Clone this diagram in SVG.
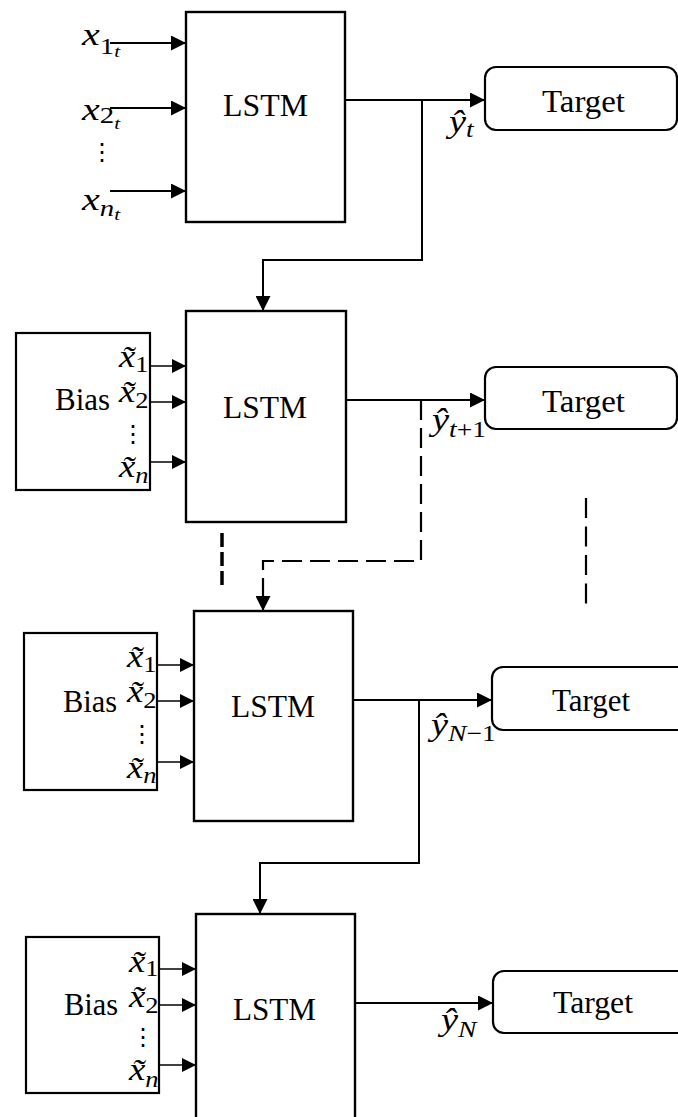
<svg xmlns="http://www.w3.org/2000/svg" width="678" height="1117" viewBox="0 0 678 1117">
  <style>
    .box { fill: #fff; stroke: #000; stroke-width: 2.4; }
    .bias { fill: #fff; stroke: #000; stroke-width: 2.2; }
    .tgt { fill: #fff; stroke: #000; stroke-width: 2.2; }
    .word { font-family: "Liberation Serif", "Times New Roman", serif; font-size: 32px; fill: #000; }
    .m { font-family: "Liberation Serif", "Times New Roman", serif; font-size: 32px; fill: #000; }
    .it { font-style: italic; }
    .s1 { font-size: 23px; }
    .s2 { font-size: 17px; }
    .dots { font-family: "DejaVu Serif", serif; font-size: 24px; fill: #000; }
    .ln { fill: none; stroke: #000; stroke-width: 2; }
    .thin { fill: none; stroke: #000; stroke-width: 1.4; }
    .dash { fill: none; stroke: #000; stroke-width: 2.2; stroke-dasharray: 20 8; }
    .dash2 { fill: none; stroke: #000; stroke-width: 3.5; stroke-dasharray: 14 5; }
  </style>
  <defs>
    <marker id="arr" markerUnits="userSpaceOnUse" markerWidth="15" markerHeight="15" refX="15" refY="7.5" orient="auto">
      <path d="M0,0 L15,7.5 L0,15 z" fill="#000"/>
    </marker>
    <marker id="arrS" markerUnits="userSpaceOnUse" markerWidth="14" markerHeight="14" refX="14" refY="7" orient="auto">
      <path d="M0,0 L14,7 L0,14 z" fill="#000"/>
    </marker>
  </defs>

  <!-- connectors -->
  <g id="connectors">
    <!-- stage 1 inputs -->
    <line class="ln" x1="110" y1="43" x2="186" y2="43" marker-end="url(#arr)"/>
    <line class="ln" x1="110" y1="108" x2="186" y2="108" marker-end="url(#arr)"/>
    <line class="ln" x1="110" y1="191" x2="186" y2="191" marker-end="url(#arr)"/>
    <!-- stage 1 output and feedback -->
    <line class="ln" x1="345" y1="100" x2="485" y2="100" marker-end="url(#arr)"/>
    <path class="ln" d="M422,100 V260 H263 V311" marker-end="url(#arr)"/>

    <!-- stage 2 inputs -->
    <line class="thin" x1="150" y1="366" x2="186" y2="366" marker-end="url(#arrS)"/>
    <line class="thin" x1="150" y1="402" x2="186" y2="402" marker-end="url(#arrS)"/>
    <line class="thin" x1="150" y1="462" x2="186" y2="462" marker-end="url(#arrS)"/>
    <!-- stage 2 output and dashed feedback -->
    <line class="ln" x1="346" y1="400" x2="485" y2="400" marker-end="url(#arr)"/>
    <path class="dash" d="M421,400 V561 H263 V597"/>
    <line class="ln" x1="263" y1="596" x2="263" y2="611" marker-end="url(#arr)"/>
    <!-- continuation marks -->
    <line class="dash2" x1="222" y1="533" x2="222" y2="588"/>
    <line class="dash" x1="586" y1="498" x2="586" y2="605" style="stroke-dasharray: 20 8.5"/>

    <!-- stage 3 inputs -->
    <line class="thin" x1="157" y1="665" x2="194" y2="665" marker-end="url(#arrS)"/>
    <line class="thin" x1="157" y1="701" x2="194" y2="701" marker-end="url(#arrS)"/>
    <line class="thin" x1="157" y1="762" x2="194" y2="762" marker-end="url(#arrS)"/>
    <!-- stage 3 output and feedback -->
    <line class="ln" x1="353" y1="700" x2="492" y2="700" marker-end="url(#arr)"/>
    <path class="ln" d="M419,700 V863 H260 V914" marker-end="url(#arr)"/>

    <!-- stage 4 inputs -->
    <line class="thin" x1="159" y1="969" x2="196" y2="969" marker-end="url(#arrS)"/>
    <line class="thin" x1="159" y1="1005" x2="196" y2="1005" marker-end="url(#arrS)"/>
    <line class="thin" x1="159" y1="1065" x2="196" y2="1065" marker-end="url(#arrS)"/>
    <!-- stage 4 output -->
    <line class="ln" x1="355" y1="1003" x2="493" y2="1003" marker-end="url(#arr)"/>
  </g>

  <!-- stage 1 -->
  <g id="inputs1">
    <text class="m" transform="translate(82,45) scale(1.25,1)"><tspan class="it">x</tspan><tspan class="s1" dy="9">1</tspan><tspan class="s2 it" dy="3">t</tspan></text>
    <text class="m" transform="translate(82,120) scale(1.25,1)"><tspan class="it">x</tspan><tspan class="s1" dy="3">2</tspan><tspan class="s2 it" dy="6">t</tspan></text>
    <text class="dots" x="102" y="160" text-anchor="middle">⋮</text>
    <text class="m" transform="translate(82,210) scale(1.25,1)"><tspan class="it">x</tspan><tspan class="s1 it" dy="6">n</tspan><tspan class="s2 it" dy="4">t</tspan></text>
  </g>
  <g id="lstm1">
    <rect class="box" x="186" y="12" width="159" height="210"/>
    <text class="word" x="223" y="116" textLength="85" lengthAdjust="spacingAndGlyphs">LSTM</text>
  </g>
  <g id="target1">
    <rect class="tgt" x="485" y="67" width="192" height="63" rx="11"/>
    <text class="word" x="542" y="112" textLength="83" lengthAdjust="spacingAndGlyphs">Target</text>
    <text class="m" transform="translate(449,132) scale(1.2,1)"><tspan class="it">ŷ</tspan><tspan class="s1 it" dy="5">t</tspan></text>
  </g>

  <!-- stage 2 -->
  <g id="bias2">
    <rect class="bias" x="16" y="333" width="134" height="157"/>
    <text class="word" x="55" y="410" textLength="55" lengthAdjust="spacingAndGlyphs">Bias</text>
    <text class="m" transform="translate(119,367) scale(1.15,1)"><tspan class="it">x̃</tspan><tspan class="s1" dy="5">1</tspan></text>
    <text class="m" transform="translate(119,402) scale(1.15,1)"><tspan class="it">x̃</tspan><tspan class="s1" dy="6">2</tspan></text>
    <text class="dots" x="133" y="442" text-anchor="middle">⋮</text>
    <text class="m" transform="translate(119,477) scale(1.15,1)"><tspan class="it">x̃</tspan><tspan class="s1 it" dy="6">n</tspan></text>
  </g>
  <g id="lstm2">
    <rect class="box" x="186" y="311" width="160" height="211"/>
    <text class="word" x="223" y="418" textLength="84" lengthAdjust="spacingAndGlyphs">LSTM</text>
  </g>
  <g id="target2">
    <rect class="tgt" x="485" y="367" width="192" height="62" rx="11"/>
    <text class="word" x="542" y="412" textLength="83" lengthAdjust="spacingAndGlyphs">Target</text>
    <text class="m" transform="translate(432,430) scale(1.2,1)"><tspan class="it">ŷ</tspan><tspan class="s1" dy="7"><tspan class="it">t</tspan>+1</tspan></text>
  </g>

  <!-- stage 3 -->
  <g id="bias3">
    <rect class="bias" x="24" y="633" width="133" height="157"/>
    <text class="word" x="63" y="712" textLength="54" lengthAdjust="spacingAndGlyphs">Bias</text>
    <text class="m" transform="translate(127,667) scale(1.15,1)"><tspan class="it">x̃</tspan><tspan class="s1" dy="5">1</tspan></text>
    <text class="m" transform="translate(127,702) scale(1.15,1)"><tspan class="it">x̃</tspan><tspan class="s1" dy="6">2</tspan></text>
    <text class="dots" x="142" y="742" text-anchor="middle">⋮</text>
    <text class="m" transform="translate(127,778) scale(1.15,1)"><tspan class="it">x̃</tspan><tspan class="s1 it" dy="5">n</tspan></text>
  </g>
  <g id="lstm3">
    <rect class="box" x="194" y="611" width="159" height="210"/>
    <text class="word" x="231" y="717" textLength="84" lengthAdjust="spacingAndGlyphs">LSTM</text>
  </g>
  <g id="target3">
    <rect class="tgt" x="492" y="667" width="200" height="63" rx="11"/>
    <text class="word" x="552" y="711" textLength="78" lengthAdjust="spacingAndGlyphs">Target</text>
    <text class="m" transform="translate(431,735) scale(1.2,1)"><tspan class="it">ŷ</tspan><tspan class="s1" dy="6"><tspan class="it">N</tspan>−1</tspan></text>
  </g>

  <!-- stage 4 -->
  <g id="bias4">
    <rect class="bias" x="26" y="937" width="133" height="156"/>
    <text class="word" x="64" y="1015" textLength="54" lengthAdjust="spacingAndGlyphs">Bias</text>
    <text class="m" transform="translate(129,972) scale(1.15,1)"><tspan class="it">x̃</tspan><tspan class="s1" dy="4">1</tspan></text>
    <text class="m" transform="translate(129,1007) scale(1.15,1)"><tspan class="it">x̃</tspan><tspan class="s1" dy="6">2</tspan></text>
    <text class="dots" x="143" y="1045" text-anchor="middle">⋮</text>
    <text class="m" transform="translate(129,1080) scale(1.15,1)"><tspan class="it">x̃</tspan><tspan class="s1 it" dy="7">n</tspan></text>
  </g>
  <g id="lstm4">
    <rect class="box" x="196" y="914" width="159" height="220"/>
    <text class="word" x="233" y="1020" textLength="83" lengthAdjust="spacingAndGlyphs">LSTM</text>
  </g>
  <g id="target4">
    <rect class="tgt" x="493" y="971" width="200" height="62" rx="11"/>
    <text class="word" x="553" y="1013" textLength="80" lengthAdjust="spacingAndGlyphs">Target</text>
    <text class="m" transform="translate(441,1030) scale(1.2,1)"><tspan class="it">ŷ</tspan><tspan class="s1 it" dy="7">N</tspan></text>
  </g>
</svg>
